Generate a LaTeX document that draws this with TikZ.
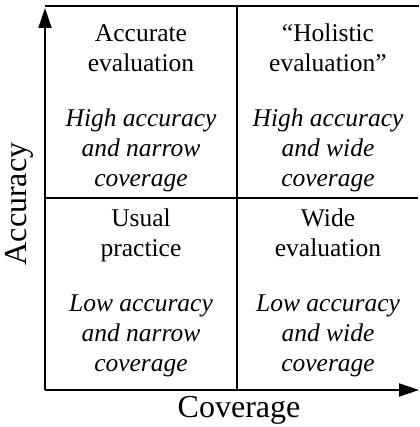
\documentclass[tikz,border=0pt]{standalone}
\usepackage{fontspec}
\setmainfont{Liberation Serif}
\usetikzlibrary{arrows.meta}
\begin{document}
\begin{tikzpicture}[x=1pt,y=-1pt,
  grid/.style={line width=1.5pt},
  axis/.style={line width=2pt,-{Triangle[length=20pt,width=13pt]}},
  head/.style={align=center,font=\fontsize{25.5}{30}\selectfont,inner sep=0pt},
  desc/.style={align=center,font=\fontsize{25.5}{30}\selectfont\itshape,inner sep=0pt},
  axlabel/.style={font=\fontsize{32}{36}\selectfont,inner sep=0pt}]
\useasboundingbox (0,0) rectangle (419,427);
\coordinate (o) at (45,390);
\coordinate (ytip) at (45,8);
\coordinate (xtip) at (419,390);
\coordinate (tl) at (45,6);
\coordinate (tr) at (419,6);
\coordinate (ml) at (45,198);
\coordinate (mr) at (418,198);
\coordinate (mt) at (237,6);
\coordinate (mb) at (237,390);
\draw[grid] (tl) -- (tr);
\draw[grid] (ml) -- (mr);
\draw[grid] (mt) -- (mb);
\draw[axis] (o) -- (ytip);
\draw[axis] (o) -- (xtip);
\node[head] (h1) at (141,51) {\strut Accurate\\evaluation\strut};
\node[desc] (d1) at (141,151) {\strut High accuracy\\and narrow\\coverage\strut};
\node[head] (h2) at (328,51) {\strut “Holistic\\evaluation”\strut};
\node[desc] (d2) at (328,151) {\strut High accuracy\\and wide\\coverage\strut};
\node[head] (h3) at (141,235) {\strut Usual\\practice\strut};
\node[desc] (d3) at (141,335) {\strut Low accuracy\\and narrow\\coverage\strut};
\node[head] (h4) at (328,235) {\strut Wide\\evaluation\strut};
\node[desc] (d4) at (328,335) {\strut Low accuracy\\and wide\\coverage\strut};
\node[axlabel,rotate=90] (ya) at (19,204) {Accuracy};
\node[axlabel] (xa) at (239,410) {Coverage};
\end{tikzpicture}
\end{document}
